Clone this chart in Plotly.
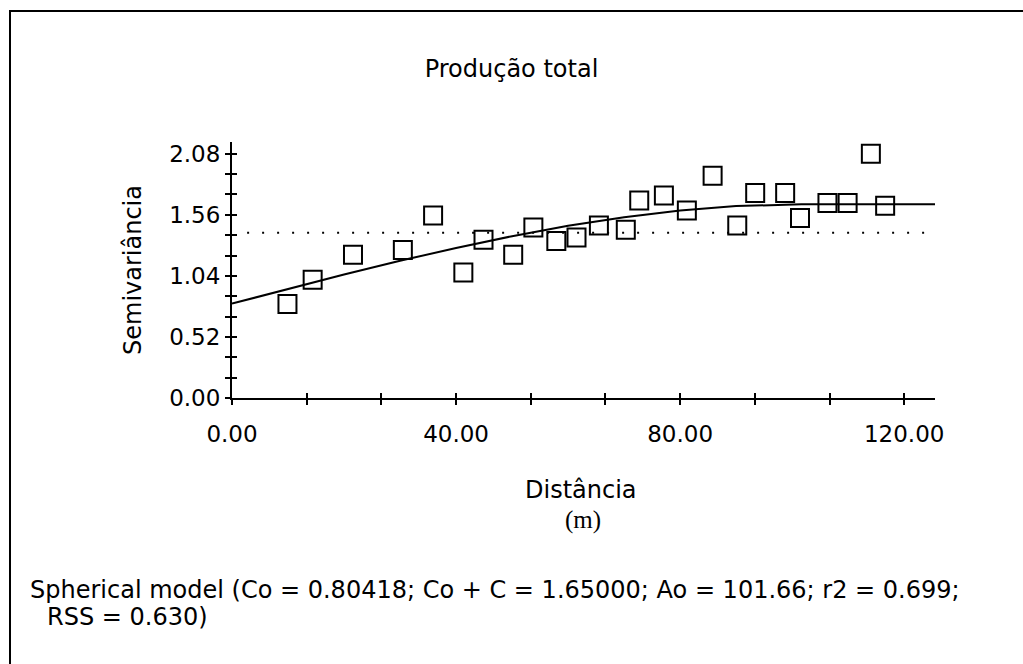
import plotly.graph_objects as go

# ---- data ----
distance = [9.9, 14.4, 21.6, 30.5, 35.9, 41.3, 44.9, 50.2, 53.8, 57.9, 61.5, 65.5,
            70.3, 72.7, 77.1, 81.2, 85.8, 90.2, 93.4, 98.75, 101.4, 106.3, 109.9,
            114.05, 116.6]
semivariance = [0.80, 1.006, 1.22, 1.26, 1.554, 1.068, 1.347, 1.22, 1.452, 1.338,
                1.367, 1.47, 1.432, 1.682, 1.725, 1.597, 1.893, 1.47, 1.745, 1.745,
                1.532, 1.66, 1.66, 2.08, 1.637]

# fitted spherical model curve
model_x = [0, 10, 20, 30, 40, 50, 60, 70, 80, 90, 100, 101.66, 125.5]
model_y = [0.804, 0.929, 1.051, 1.168, 1.278, 1.378, 1.466, 1.540, 1.597, 1.634,
           1.650, 1.650, 1.650]

sample_variance = 1.407
dotted_x = [2.7, 124.0]

x_tickvals = [0, 13.333, 26.667, 40, 53.333, 66.667, 80, 93.333, 106.667, 120]
x_ticktext = ["0.00", "", "", "40.00", "", "", "80.00", "", "", "120.00"]
y_tickvals = [0, 0.1733, 0.3467, 0.52, 0.6933, 0.8667, 1.04, 1.2133, 1.3867,
              1.56, 1.7333, 1.9067, 2.08]
y_ticktext = ["0.00", "", "", "0.52", "", "", "1.04", "", "", "1.56", "", "", "2.08"]

x_range = [0, 125.5]
y_range = [0, 2.18]

title_text = "Produção total"
y_title = "Semivariância"
x_title = "Distância"
x_unit = "(m)"
model_line1 = "Spherical model (Co = 0.80418; Co + C = 1.65000; Ao = 101.66; r2 = 0.699;"
model_line2 = "RSS = 0.630)"

# ---- figure ----
W, H = 1023, 664
L, R, T, B = 232, 88, 142, 266
PW, PH = W - L - R, H - T - B


def px_x(p):
    return (p - L) / PW


def px_y(p):
    return (H - B - p) / PH


FONT = "DejaVu Sans, Verdana, sans-serif"
fs_tick = 23
fs = 24

fig = go.Figure()
fig.add_trace(go.Scatter(x=dotted_x, y=[sample_variance, sample_variance], mode="lines",
                         line=dict(color="black", width=2, dash="2px,13px"),
                         hoverinfo="skip", showlegend=False))
fig.add_trace(go.Scatter(x=model_x, y=model_y, mode="lines",
                         line=dict(color="black", width=2),
                         showlegend=False))
fig.add_trace(go.Scatter(x=distance, y=semivariance, mode="markers",
                         marker=dict(symbol="square-open", size=18, color="black",
                                     line=dict(color="black", width=2)),
                         showlegend=False))
# helper trace for the overlay axes that draw the inner half of the crossing ticks
fig.add_trace(go.Scatter(x=[None], y=[None], xaxis="x2", yaxis="y2",
                         showlegend=False, hoverinfo="skip"))

axis_common = dict(showgrid=False, zeroline=False, color="black")
fig.update_layout(
    width=W, height=H,
    margin=dict(l=L, r=R, t=T, b=B),
    paper_bgcolor="white", plot_bgcolor="white",
    font=dict(family=FONT, size=fs, color="black"),
    xaxis=dict(range=x_range, tickmode="array", tickvals=x_tickvals, ticktext=x_ticktext,
               ticks="outside", ticklen=5, tickwidth=1.5, tickcolor="black",
               showline=True, linecolor="black", linewidth=2,
               ticklabelstandoff=9, tickfont=dict(size=fs_tick), **axis_common),
    yaxis=dict(range=y_range, tickmode="array", tickvals=y_tickvals, ticktext=y_ticktext,
               ticks="outside", ticklen=5, tickwidth=1.5, tickcolor="black",
               showline=True, linecolor="black", linewidth=2,
               ticklabelstandoff=0, tickfont=dict(size=fs_tick), **axis_common),
    xaxis2=dict(overlaying="x", matches="x", anchor="y2", tickmode="array",
                tickvals=x_tickvals, ticks="inside", ticklen=5, tickwidth=1.5,
                tickcolor="black", showticklabels=False, showline=False, **axis_common),
    yaxis2=dict(overlaying="y", matches="y", anchor="x2", tickmode="array",
                tickvals=y_tickvals, ticks="inside", ticklen=5, tickwidth=1.5,
                tickcolor="black", showticklabels=False, showline=False, **axis_common),
    title=dict(text=title_text, x=0.5, xref="container", xanchor="center",
               y=1 - 69 / H, yref="container", yanchor="middle",
               font=dict(family=FONT, size=fs)),
    showlegend=False,
)

annotations = [
    dict(text=y_title, x=px_x(133), y=px_y(270), textangle=-90),
    dict(text=x_title, x=px_x(581), y=px_y(490)),
    dict(text=x_unit, x=px_x(583), y=px_y(520),
         font=dict(family="Liberation Serif, Times New Roman, serif", size=25)),
    dict(text=model_line1, x=px_x(28), y=px_y(590), xanchor="left"),
    dict(text=model_line2, x=px_x(45), y=px_y(617), xanchor="left"),
]
for a in annotations:
    a.setdefault("xanchor", "center")
    fig.add_annotation(xref="paper", yref="paper", showarrow=False, yanchor="middle",
                       **a)

# outer frame of the figure
fig.add_shape(type="rect", xref="paper", yref="paper",
              x0=px_x(10), x1=px_x(1040), y0=px_y(11), y1=px_y(700),
              line=dict(color="black", width=2), fillcolor="rgba(0,0,0,0)", layer="above")

fig.write_html("out.html")
